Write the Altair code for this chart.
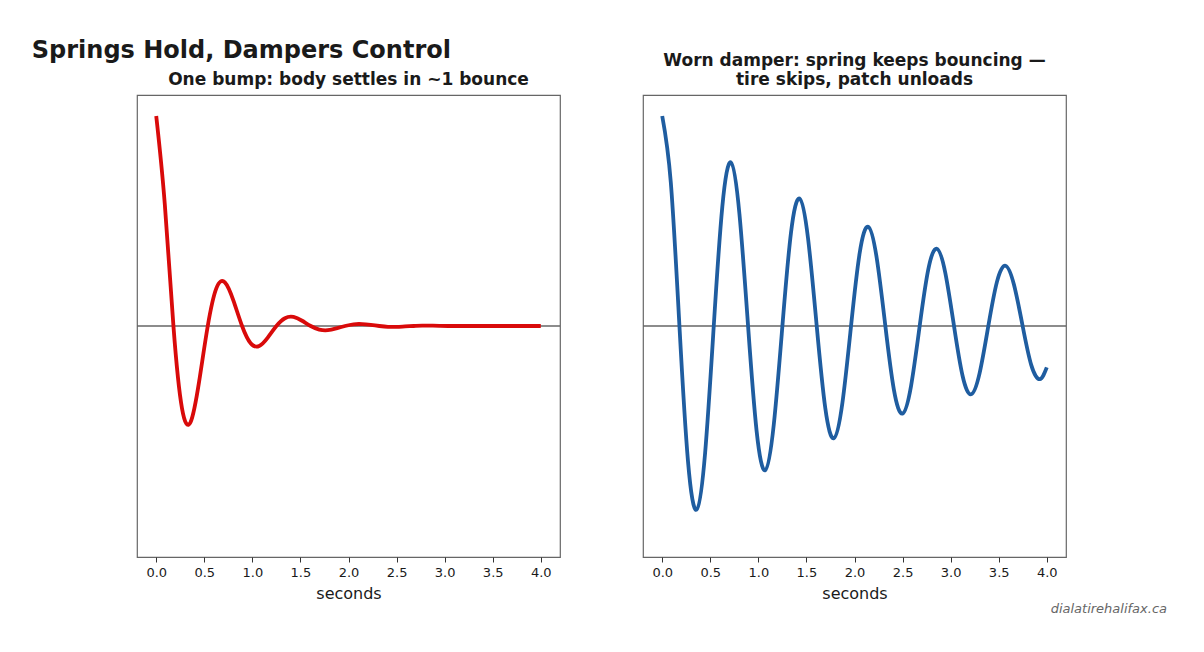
import altair as alt

# time samples (s)
t_sec = [0.000, 0.089, 0.179, 0.268, 0.357, 0.446, 0.536, 0.625, 0.714, 0.803,
         0.893, 0.982, 1.071, 1.160, 1.250, 1.339, 1.428, 1.517, 1.607, 1.696,
         1.785, 1.874, 1.964, 2.053, 2.142, 2.231, 2.321, 2.410, 2.499, 2.588,
         2.678, 2.767, 2.856, 2.945, 3.035, 3.124, 3.213, 3.302, 3.392, 3.481,
         3.570, 3.659, 3.749, 3.838, 3.927, 4.000]

# healthy damper: body displacement
good_damper = [1.000, 0.581, 0.000, -0.392, -0.458, -0.265, 0.000, 0.179, 0.208, 0.121,
               0.000, -0.082, -0.095, -0.055, 0.000, 0.037, 0.043, 0.025, 0.000, -0.017,
               -0.020, -0.011, 0.000, 0.008, 0.009, 0.005, 0.000, -0.004, -0.004, -0.002,
               0.000, 0.002, 0.002, 0.001, 0.000, 0.000, 0.000, 0.000, 0.000, 0.000,
               0.000, 0.000, 0.000, 0.000, 0.000, 0.000]

# worn damper: keeps bouncing
worn_damper = [1.000, 0.685, 0.000, -0.644, -0.875, -0.605, 0.000, 0.568, 0.779, 0.534,
               0.000, -0.501, -0.687, -0.471, 0.000, 0.443, 0.607, 0.416, 0.000, -0.391,
               -0.535, -0.367, 0.000, 0.345, 0.473, 0.324, 0.000, -0.304, -0.417, -0.286,
               0.000, 0.268, 0.368, 0.252, 0.000, -0.237, -0.325, -0.223, 0.000, 0.209,
               0.287, 0.196, 0.000, -0.185, -0.253, -0.197]

# zero reference line, spanning the x range
zero_t = [-0.2, 4.2]
zero_y = [0.0, 0.0]

x_ticks = [0.0, 0.5, 1.0, 1.5, 2.0, 2.5, 3.0, 3.5, 4.0]

FONT = "DejaVu Sans"
INK = "#1a1a1a"


def panel(values, color, title_lines, note=None):
    rows = [{"t": t, "y": v} for t, v in zip(t_sec, values)]
    zero_rows = [{"t": t, "y": v} for t, v in zip(zero_t, zero_y)]
    x = alt.X("t:Q", scale=alt.Scale(domain=[-0.2, 4.2], nice=False, zero=False),
              axis=alt.Axis(values=x_ticks, format=".1f", title="seconds", grid=False,
                            domain=False, tickColor="#333333", tickSize=5,
                            labelFontSize=13, labelColor=INK, labelFont=FONT,
                            titleFontSize=16, titleFontWeight="normal", titleColor=INK,
                            titleFont=FONT, labelPadding=4, titlePadding=6))
    y = alt.Y("y:Q", scale=alt.Scale(domain=[-1.1, 1.1], nice=False), axis=None)

    # no mark_rule here: a rule layer broke the page in this setup
    zero = alt.Chart(alt.Data(values=zero_rows)).mark_line(
        color="#666666", strokeWidth=1.3).encode(x=x, y=y)
    line = alt.Chart(alt.Data(values=rows)).mark_line(
        color=color, strokeWidth=3.8, interpolate="natural").encode(x=x, y=y)
    layers = [zero, line]
    if note:
        layers.append(alt.Chart(alt.Data(values=[{"txt": note}])).mark_text(
            align="right", baseline="middle", fontStyle="italic", fontSize=13,
            color="#666666", font=FONT
        ).encode(text="txt:N", x=alt.value(524), y=alt.value(514)))
    return alt.layer(*layers).properties(
        width=423, height=462,
        title=alt.TitleParams(title_lines, fontSize=17, fontWeight="bold", color=INK,
                              font=FONT, anchor="middle", offset=6),
    )


left = panel(good_damper, "#d90a0a", "One bump: body settles in ~1 bounce")
right = panel(worn_damper, "#1f5da0",
              ["Worn damper: spring keeps bouncing \u2014", "tire skips, patch unloads"],
              note="dialatirehalifax.ca")

chart = alt.hconcat(left, right, spacing=75).properties(
    padding={"left": 23, "top": 31, "right": 5, "bottom": 5},
    title=alt.TitleParams("Springs Hold, Dampers Control", fontSize=24, fontWeight="bold",
                          color=INK, font=FONT, anchor="start", offset=0, dx=-102, dy=12),
).configure_view(stroke="#666666", strokeWidth=1.2)

chart.save("out.html", embed_options={"renderer": "svg", "actions": False})
